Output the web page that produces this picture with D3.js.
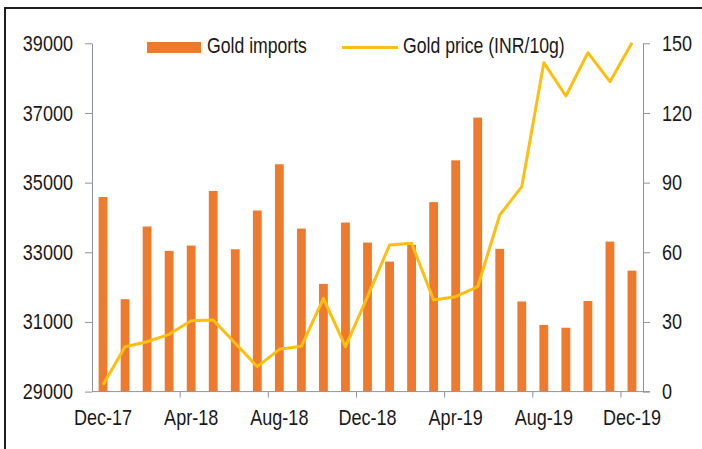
<!DOCTYPE html>
<html>
<head>
<meta charset="utf-8">
<script src="https://cdn.jsdelivr.net/npm/d3@7"></script>
<style>
  body { margin: 0; background: #fff; }
  svg text { font-family: "Liberation Sans", Arial, sans-serif; fill: #1a1a1a; }
</style>
</head>
<body>
<div id="chart"></div>
<script>
// ---- data ----
var months = ["Dec-17","Jan-18","Feb-18","Mar-18","Apr-18","May-18","Jun-18","Jul-18","Aug-18",
              "Sep-18","Oct-18","Nov-18","Dec-18","Jan-19","Feb-19","Mar-19","Apr-19","May-19",
              "Jun-19","Jul-19","Aug-19","Sep-19","Oct-19","Nov-19","Dec-19"];

// gold imports (right axis)
var imports = [83.8, 39.8, 71.1, 60.6, 62.9, 86.4, 61.3, 78.0, 97.9,
               70.2, 46.4, 72.8, 64.2, 56.0, 63.2, 81.6, 99.6, 118.0,
               61.5, 38.8, 28.7, 27.5, 39.0, 64.6, 52.1];

// gold price INR/10g (left axis)
var price = [29200, 30290, 30430, 30645, 31036, 31056, 30386, 29716, 30214,
             30300, 31678, 30290, 31725, 33209, 33257, 31630, 31725, 32012,
             34070, 34883, 38443, 37487, 38730, 37897, 39017];

var leftTicks  = [29000, 31000, 33000, 35000, 37000, 39000];
var rightTicks = [0, 30, 60, 90, 120, 150];
var xLabels    = ["Dec-17","Apr-18","Aug-18","Dec-18","Apr-19","Aug-19","Dec-19"];

// ---- layout ----
var W = 702, H = 449;
var plot = {left: 92, right: 643, top: 43.3, bottom: 391.6};
var narrow = 0.82; // no Arial Narrow here, so squeeze the glyphs

var svg = d3.select("#chart").append("svg")
            .attr("width", W)
            .attr("height", H);

// frame round the chart
svg.append("rect")
   .attr("x", 5).attr("y", 8)
   .attr("width", 760).attr("height", 500)
   .attr("fill", "#fff")
   .attr("stroke", "#1e1e1e")
   .attr("stroke-width", 2);

var x = d3.scaleBand()
          .domain(months)
          .range([plot.left, plot.right])
          .paddingInner(0.6)
          .paddingOuter(0.3);

var yL = d3.scaleLinear().domain([29000, 39000]).range([plot.bottom, plot.top]);
var yR = d3.scaleLinear().domain([0, 150]).range([plot.bottom, plot.top]);

var axisColor = "#8a93a0";

// bars
svg.append("g").selectAll("rect")
   .data(months)
   .enter().append("rect")
   .attr("x", function(d) { return x(d); })
   .attr("width", x.bandwidth())
   .attr("y", function(d, i) { return yR(imports[i]); })
   .attr("height", function(d, i) { return plot.bottom - yR(imports[i]); })
   .attr("fill", "#ee7a2d");

// price line
var line = d3.line()
             .x(function(d, i) { return x(months[i]) + x.bandwidth() / 2; })
             .y(function(d) { return yL(d); });

svg.append("path")
   .datum(price)
   .attr("d", line)
   .attr("fill", "none")
   .attr("stroke", "#fdbf0f")
   .attr("stroke-width", 3)
   .attr("stroke-linejoin", "round");

// left axis
var gL = svg.append("g")
            .attr("transform", "translate(" + plot.left + ",0)")
            .call(d3.axisLeft(yL).tickValues(leftTicks).tickFormat(d3.format("d"))
                    .tickSize(7).tickSizeOuter(0).tickPadding(12));

// right axis
var gR = svg.append("g")
            .attr("transform", "translate(" + plot.right + ",0)")
            .call(d3.axisRight(yR).tickValues(rightTicks)
                    .tickSize(7).tickSizeOuter(0).tickPadding(12));

// bottom axis: labels at band centres, ticks at band edges
var gB = svg.append("g")
            .attr("transform", "translate(0," + plot.bottom + ")")
            .call(d3.axisBottom(x).tickValues(xLabels).tickSize(0).tickPadding(18));
gB.select(".domain").remove();

svg.append("line")
   .attr("x1", plot.left).attr("x2", plot.right + 7)
   .attr("y1", plot.bottom).attr("y2", plot.bottom)
   .attr("stroke", axisColor);

svg.append("g").selectAll("line")
   .data(xLabels.slice(1))
   .enter().append("line")
   .attr("x1", function(d) { return x(d) - x.step() * x.paddingInner() / 2; })
   .attr("x2", function(d) { return x(d) - x.step() * x.paddingInner() / 2; })
   .attr("y1", plot.bottom)
   .attr("y2", plot.bottom + 6)
   .attr("stroke", axisColor);

[gL, gR, gB].forEach(function(g) {
    g.selectAll(".domain, .tick line").attr("stroke", axisColor);
    g.selectAll("text").style("font-size", "22px").attr("fill", "#1a1a1a");
});

// legend
var legend = svg.append("g");
legend.append("rect")
      .attr("x", 147).attr("y", 42)
      .attr("width", 54).attr("height", 11)
      .attr("fill", "#ee7a2d");
legend.append("text")
      .attr("x", 207).attr("y", 53)
      .style("font-size", "21.5px")
      .text("Gold imports");
legend.append("line")
      .attr("x1", 342).attr("x2", 398)
      .attr("y1", 47.5).attr("y2", 47.5)
      .attr("stroke", "#fdbf0f")
      .attr("stroke-width", 3);
legend.append("text")
      .attr("x", 403).attr("y", 53)
      .style("font-size", "21.5px")
      .text("Gold price (INR/10g)");

// condense every label
svg.selectAll("text").each(function() {
    var len = this.getComputedTextLength();
    d3.select(this)
      .attr("textLength", len * narrow)
      .attr("lengthAdjust", "spacingAndGlyphs");
});
</script>
</body>
</html>
